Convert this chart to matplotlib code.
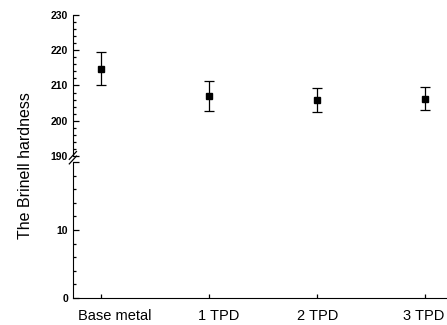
import matplotlib
matplotlib.use("Agg")
import matplotlib.pyplot as plt
from matplotlib.ticker import MultipleLocator

# data
samples = ["Base metal", "1 TPD", "2 TPD", "3 TPD"]
hardness = [214.8, 207.1, 205.9, 206.3]
hardness_err = [4.8, 4.2, 3.5, 3.2]
# small horizontal shifts of the category labels (points), as in the scan
label_shift = [10, 7, 0.5, -1.5]

plt.rcParams['font.family'] = ['Liberation Sans', 'DejaVu Sans']

fig = plt.figure(figsize=(4.47, 3.25), dpi=100)
left, width = 0.163, 0.837
ax_top = fig.add_axes([left, 1 - 156 / 325, width, 141 / 325])
ax_bot = fig.add_axes([left, 1 - 298 / 325, width, 136 / 325])

x = list(range(len(samples)))
for ax in (ax_top, ax_bot):
    ax.errorbar(x, hardness, yerr=hardness_err, fmt='s', color='black',
                markersize=4.5, capsize=3.6, elinewidth=0.9, capthick=0.9)
    ax.set_xlim(-0.26, 3.2)
    ax.spines['right'].set_visible(False)
    ax.spines['top'].set_visible(False)
    ax.tick_params(direction='in', which='both', labelsize=7.5, width=0.9)
    ax.tick_params(which='major', length=4)
    ax.tick_params(which='minor', length=2.5)
    ax.yaxis.set_minor_locator(MultipleLocator(2))

ax_top.set_ylim(190, 230)
ax_top.set_yticks([190, 200, 210, 220, 230])
ax_top.spines['bottom'].set_visible(False)
ax_top.tick_params(axis='x', which='both', bottom=False, labelbottom=False)
for lbl in ax_top.get_yticklabels():
    lbl.set_fontweight('bold')

ax_bot.set_ylim(0, 20)
ax_bot.set_yticks([0, 10, 20])
ax_bot.set_yticklabels(['0', '10', ''])
for lbl in ax_bot.get_yticklabels():
    lbl.set_fontweight('bold')
ax_bot.set_xticks(x)
ax_bot.set_xticklabels([])
ax_bot.tick_params(axis='x', length=3)
for xi, name, dx in zip(x, samples, label_shift):
    ax_bot.annotate(name, xy=(xi, 0), xycoords=ax_bot.get_xaxis_transform(),
                    xytext=(dx, -8), textcoords='offset points',
                    ha='center', va='top', fontsize=10.5)

# axis break marks
d = 0.012
for dy in (0.0, 0.014):
    fig.add_artist(plt.Line2D([left - 0.008, left + 0.008],
                              [1 - 160 / 325 + dy - d, 1 - 160 / 325 + dy + d],
                              color='black', lw=0.9))

fig.text(0.056, 0.492, "The Brinell hardness", rotation=90, ha='center', va='center',
         fontsize=11.5)

fig.savefig("out.png", dpi=100)
